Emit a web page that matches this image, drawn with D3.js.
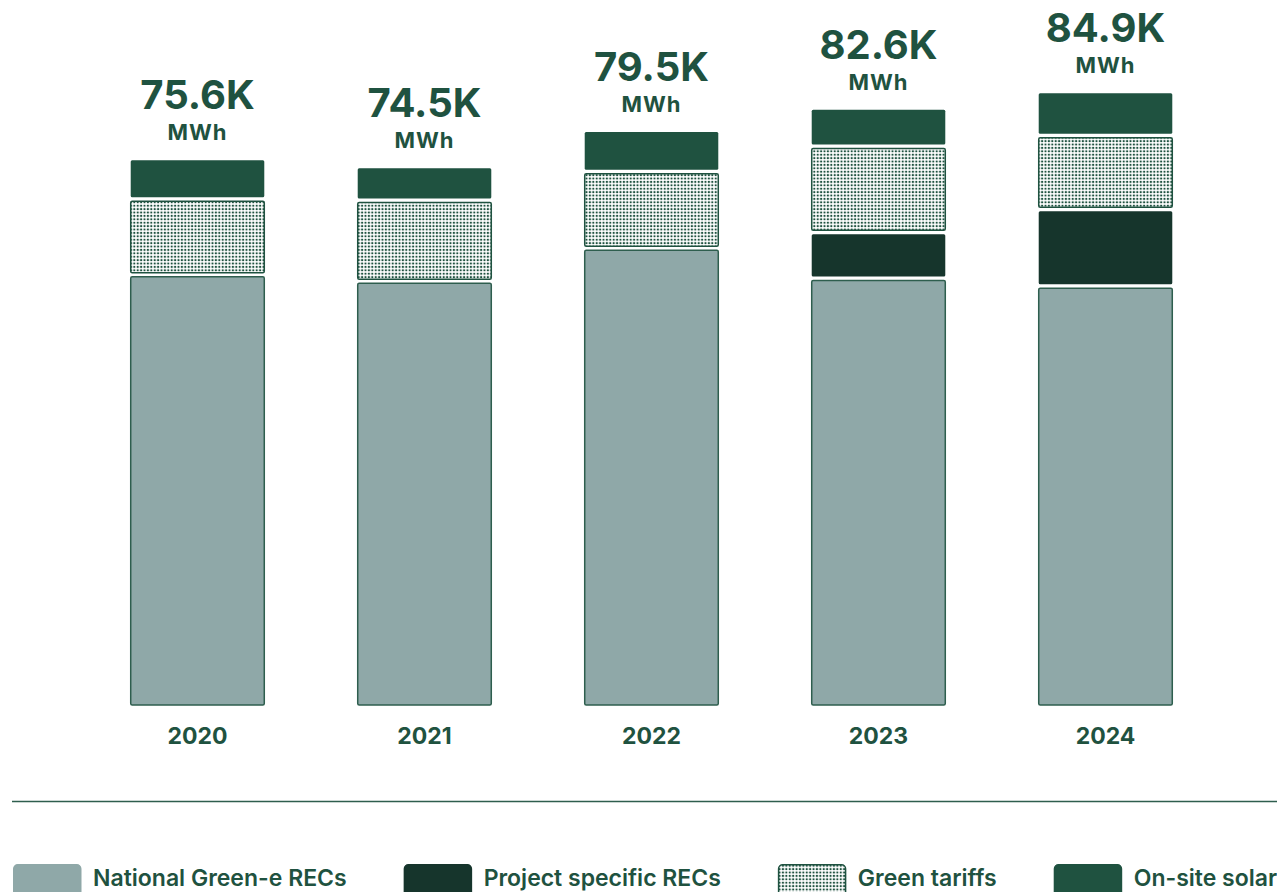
<!DOCTYPE html>
<html>
<head>
<meta charset="utf-8">
<script src="https://cdn.jsdelivr.net/npm/d3@7"></script>
<style>
  html, body { margin: 0; padding: 0; background: #ffffff; }
  svg { display: block; font-family: "Inter", "Noto Sans", sans-serif; }
</style>
</head>
<body>
<svg id="chart" width="1277" height="892"></svg>
<script>
// Renewable electricity by source, thousand MWh
const years = ["2020", "2021", "2022", "2023", "2024"];
const nationalRECs = [59.7, 58.8, 63.4, 59.2, 58.1];
const projectRECs  = [0, 0, 0, 6.4, 10.7];
const greenTariffs = [10.5, 11.2, 10.6, 11.9, 10.2];
const onsiteSolar  = [5.4, 4.5, 5.5, 5.1, 5.9];

const seriesKeys = ["national", "project", "tariffs", "solar"];
const seriesNames = ["National Green-e RECs", "Project specific RECs", "Green tariffs", "On-site solar"];

const rows = years.map((yr, i) => ({
  year: yr,
  national: nationalRECs[i],
  project: projectRECs[i],
  tariffs: greenTariffs[i],
  solar: onsiteSolar[i]
}));

const ink = "#1f5240";
const colors = {
  national: "#8fa8a8",
  project: "#16352c",
  tariffs: "url(#dots)",
  solar: "#1f5240"
};
const strokes = {
  national: "#2e5e4e",
  project: "none",
  tariffs: "#1f5240",
  solar: "none"
};

const svg = d3.select("#chart");
const W = 1277;

// dotted fill for green tariffs
const defs = svg.append("defs");
const pat = defs.append("pattern")
  .attr("id", "dots")
  .attr("patternUnits", "userSpaceOnUse")
  .attr("width", 3.4)
  .attr("height", 3.4);
pat.append("rect").attr("width", 3.4).attr("height", 3.4).attr("fill", "#ffffff");
pat.append("circle").attr("cx", 1.7).attr("cy", 1.7).attr("r", 1.15).attr("fill", ink);

const x = d3.scaleBand()
  .domain(years)
  .range([84, 1219])
  .paddingInner(0.405)
  .paddingOuter(0.2025);

const y = d3.scaleLinear()
  .domain([0, 97])
  .range([705, 6]);

const stacked = d3.stack().keys(seriesKeys)(rows);

const gap = 4;
const topIndex = rows.map(r => {
  let t = -1;
  seriesKeys.forEach((k, j) => { if (r[k] > 0) t = j; });
  return t;
});

const layers = svg.append("g").attr("class", "bars")
  .selectAll("g")
  .data(stacked)
  .join("g")
  .attr("data-series", d => d.key);

layers.each(function (layer, li) {
  d3.select(this).selectAll("rect")
    .data(layer.map((d, i) => ({ d, i, li })).filter(o => o.d[1] - o.d[0] > 0))
    .join("rect")
    .attr("x", o => x(years[o.i]) + 0.75)
    .attr("width", x.bandwidth() - 1.5)
    .attr("y", o => y(o.d[1]) + (o.li === topIndex[o.i] ? 0 : gap / 2))
    .attr("height", o => {
      const top = y(o.d[1]) + (o.li === topIndex[o.i] ? 0 : gap / 2);
      const bottom = y(o.d[0]) - (o.d[0] === 0 ? 0 : gap / 2);
      return bottom - top;
    })
    .attr("rx", 1.5)
    .attr("fill", colors[layer.key])
    .attr("stroke", strokes[layer.key])
    .attr("stroke-width", 1.5);
});

// total labels above each bar
const totals = rows.map(r => d3.sum(seriesKeys, k => r[k]));
const fmt = d3.format(".1f");
const labels = svg.append("g").attr("class", "totals")
  .selectAll("g")
  .data(rows)
  .join("g")
  .attr("transform", (r, i) => `translate(${x(r.year) + x.bandwidth() / 2},${y(totals[i])})`);

labels.append("text")
  .attr("y", -51)
  .attr("text-anchor", "middle")
  .attr("fill", ink)
  .attr("font-size", 40)
  .attr("font-weight", 700)
  .text((r, i) => fmt(totals[i]) + "K");

labels.append("text")
  .attr("y", -20)
  .attr("text-anchor", "middle")
  .attr("fill", ink)
  .attr("font-size", 22)
  .attr("font-weight", 700)
  .attr("letter-spacing", 1)
  .text("MWh");

// year axis
const axis = svg.append("g")
  .attr("transform", `translate(0,${y(0)})`)
  .call(d3.axisBottom(x).tickSize(0).tickPadding(23));
axis.select(".domain").remove();
axis.selectAll("text")
  .attr("fill", ink)
  .attr("font-size", 23)
  .attr("font-weight", 700)
  .attr("font-family", "Inter, 'Noto Sans', sans-serif");

// divider
svg.append("line")
  .attr("x1", 12).attr("x2", W)
  .attr("y1", 801.5).attr("y2", 801.5)
  .attr("stroke", "#2e5e4e")
  .attr("stroke-width", 1.5);

// legend
const legend = svg.append("g").attr("class", "legend");
let lx = 13;
seriesKeys.forEach((k, i) => {
  const item = legend.append("g").attr("transform", `translate(${lx},864)`);
  item.append("rect")
    .attr("x", 0.75).attr("y", 0.75)
    .attr("width", 67).attr("height", 34)
    .attr("rx", 4)
    .attr("fill", colors[k])
    .attr("stroke", k === "tariffs" ? ink : (k === "national" ? "#8fa8a8" : colors[k]))
    .attr("stroke-width", 1.5);
  const t = item.append("text")
    .attr("x", 80)
    .attr("y", 22)
    .attr("fill", ink)
    .attr("font-size", 23)
    .attr("font-weight", 600)
    .text(seriesNames[i]);
  lx += 80 + t.node().getComputedTextLength() + 57;
});
</script>
</body>
</html>
